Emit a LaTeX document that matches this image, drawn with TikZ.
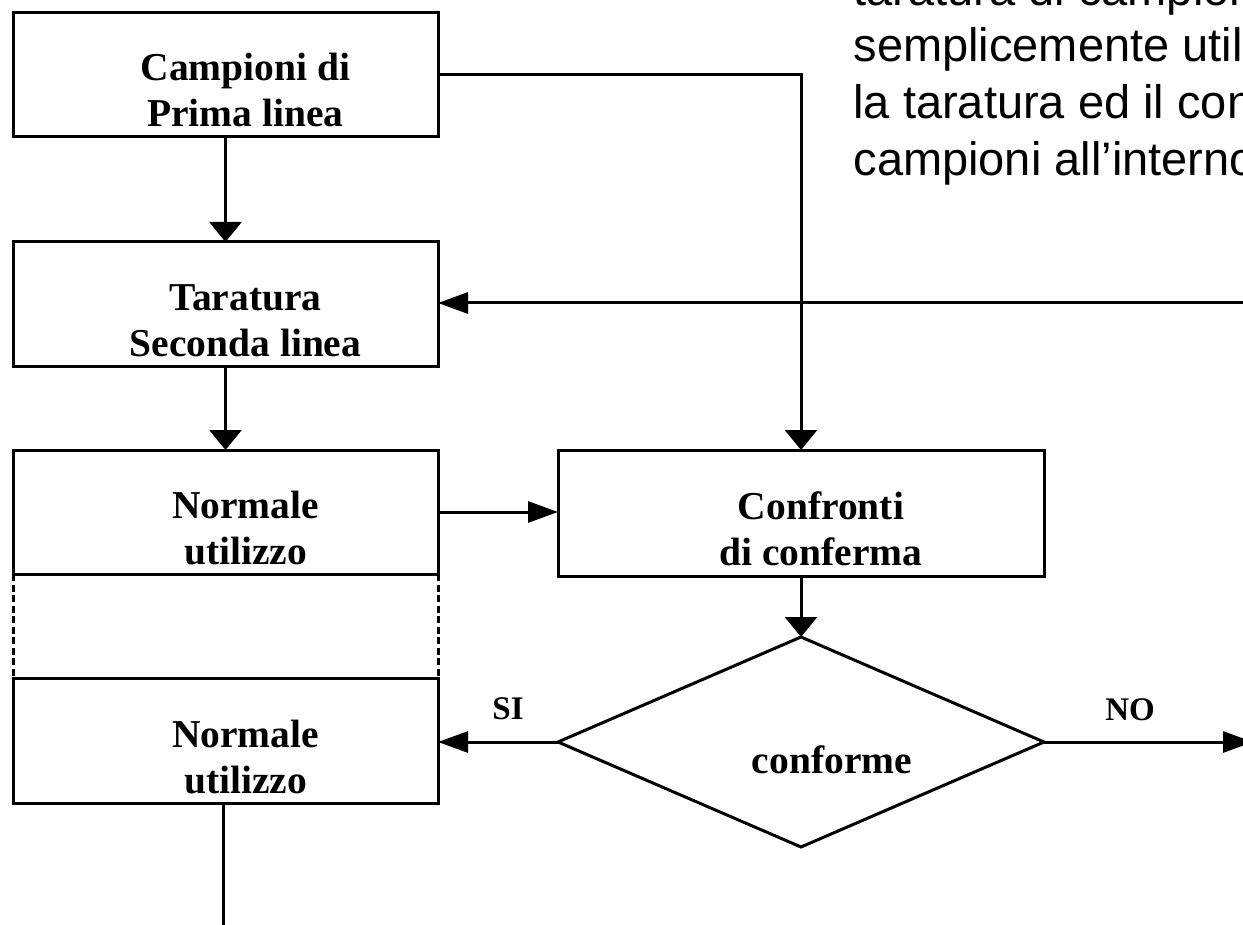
\documentclass[tikz,border=0pt]{standalone}
\usepackage{fontspec}
\setmainfont{Liberation Serif}
\newfontfamily\notefont{Liberation Sans}
\usetikzlibrary{arrows.meta,shapes.geometric}
\begin{document}
\begin{tikzpicture}[x=1pt,y=-1pt,
  line width=3pt,
  stepbox/.style={draw, rectangle, inner sep=0pt, outer sep=0pt,
    minimum width=425pt, minimum height=124pt},
  boxtext/.style={font=\fontsize{39.5pt}{46pt}\selectfont\bfseries,
    align=center, inner sep=0pt, text depth=0pt},
  flagtext/.style={font=\fontsize{33pt}{38pt}\selectfont\bfseries,
    inner sep=0pt},
  notetext/.style={font=\notefont\fontsize{47pt}{56.7pt}\selectfont,
    align=left, inner sep=0pt, text depth=0pt},
  vtip/.style={-{Triangle[length=20pt,width=32pt]}},
  htip/.style={-{Triangle[length=30pt,width=21pt]}},
  gap/.style={dash pattern=on 7pt off 3.5pt}]

\useasboundingbox (0,0) rectangle (1243,925);
\fill[white] (0,0) rectangle (1243,925);
\clip (0,0) rectangle (1243,925);

% process boxes
\node[stepbox] (b1) at (225.5,75) {};
\node[stepbox, minimum height=125pt] (b2) at (225.5,304.5) {};
\node[stepbox] (b3) at (225.5,512) {};
\node[stepbox, minimum height=125pt] (b4) at (225.5,740.5) {};
\node[stepbox, minimum width=486pt, minimum height=126pt] (conf) at (801,513) {};
\node[draw, diamond, inner sep=0pt, outer sep=0pt,
  minimum width=486pt, minimum height=210pt] (dia) at (801,742) {};

% box captions
\node[boxtext, anchor=south] (t1) at ([shift={(20,-8.5)}]b1.south) {Campioni di\\Prima linea};
\node[boxtext, anchor=south] (t2) at ([shift={(20,-8.5)}]b2.south) {Taratura\\Seconda linea};
\node[boxtext, anchor=south] (t3) at ([shift={(20,-8.5)}]b3.south) {Normale\\utilizzo};
\node[boxtext, anchor=south] (t4) at ([shift={(20,-8.5)}]b4.south) {Normale\\utilizzo};
\node[boxtext, anchor=south] (tc) at ([shift={(20,-9)}]conf.south) {Confronti\\di conferma};
\node[boxtext, anchor=base] (td) at ([shift={(31,31)}]dia.center) {conforme};

% branch labels
\node[flagtext, anchor=base] (si) at (508,719) {SI};
\node[flagtext, anchor=base] (no) at (1130,720) {NO};

% side note, running past the right edge
\node[notetext, anchor=south west] (note) at (852,176.7)
  {taratura di campioni\\semplicemente util\\la taratura ed il con\\campioni all’interno};

% connectors
\draw[vtip] (b1.south) -- (b2.north);
\draw[vtip] (b2.south) -- (b3.north);
\draw[htip] (b3.east) -- (b3.east -| conf.west);
\draw[vtip] (b1.east) -- (b1.east -| conf.north) -- (conf.north);
\coordinate (feed) at (1260,303);
\draw[htip] (feed) -- (feed -| b2.east);
\draw[vtip] (conf.south) -- (dia.north);
\draw[htip] (dia.west) -- (dia.west -| b4.east);
\coordinate (noend) at (1253,742);
\draw[htip] (dia.east) -- (noend);
\coordinate (exit) at (223,925);
\draw (b4.south -| exit) -- (exit);

% interrupted period between the two usage boxes
\draw[gap] (b3.south west) -- (b4.north west);
\draw[gap] (b3.south east) -- (b4.north east);
\end{tikzpicture}
\end{document}
